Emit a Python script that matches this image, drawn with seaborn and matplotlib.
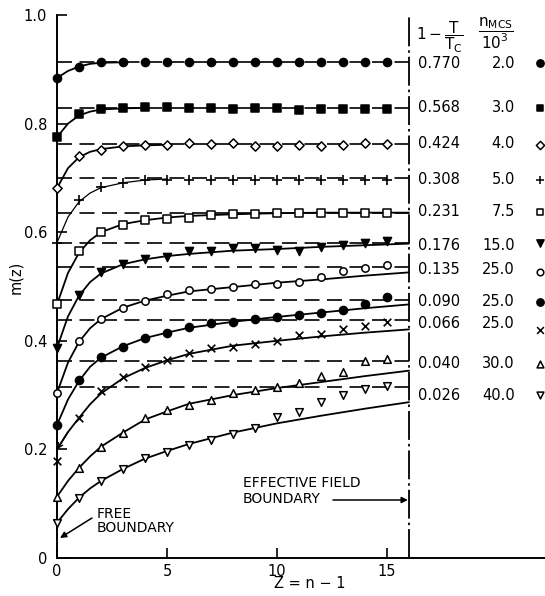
import numpy as np
import pandas as pd
import matplotlib
matplotlib.use("Agg")
import matplotlib.pyplot as plt
import seaborn as sns

# ------------------------------------------------------------------ data
Z = list(range(16))                 # layer index z = n - 1 of the data points
BOUNDARY_Z = 16                     # effective field boundary
ONE_MINUS_T = ["0.770", "0.568", "0.424", "0.308", "0.231", "0.176",
               "0.135", "0.090", "0.066", "0.040", "0.026"]
N_MCS = ["2.0", "3.0", "4.0", "5.0", "7.5", "15.0",
         "25.0", "25.0", "25.0", "30.0", "40.0"]
LEVELS = [0.913, 0.828, 0.762, 0.699, 0.636, 0.581, 0.535, 0.476, 0.439, 0.363, 0.315]

m_0770 = [0.884, 0.904, 0.913, 0.914, 0.913, 0.913, 0.913, 0.913, 0.913, 0.913, 0.913, 0.913, 0.913, 0.913, 0.913, 0.913]
m_0568 = [0.775, 0.817, 0.826, 0.828, 0.830, 0.830, 0.828, 0.828, 0.827, 0.828, 0.828, 0.825, 0.826, 0.827, 0.827, 0.826]
m_0424 = [0.681, 0.740, 0.751, 0.758, 0.760, 0.760, 0.765, 0.762, 0.764, 0.758, 0.758, 0.760, 0.758, 0.760, 0.764, 0.762]
m_0308 = [0.581, 0.659, 0.683, 0.690, 0.696, 0.697, 0.697, 0.696, 0.696, 0.696, 0.696, 0.696, 0.696, 0.696, 0.696, 0.696]
m_0231 = [0.467, 0.565, 0.601, 0.614, 0.622, 0.625, 0.627, 0.631, 0.633, 0.634, 0.635, 0.635, 0.635, 0.635, 0.635, 0.635]
m_0176 = [0.387, 0.485, 0.526, 0.542, 0.550, 0.555, 0.565, 0.566, 0.570, 0.570, 0.568, 0.566, 0.572, 0.577, 0.581, 0.583]
m_0135 = [0.304, 0.400, 0.441, 0.461, 0.474, 0.487, 0.494, 0.496, 0.500, 0.504, 0.505, 0.509, 0.518, 0.528, 0.534, 0.539]
m_0090 = [0.245, 0.327, 0.371, 0.389, 0.406, 0.415, 0.426, 0.432, 0.434, 0.441, 0.443, 0.448, 0.452, 0.457, 0.468, 0.480]
m_0066 = [0.179, 0.258, 0.308, 0.334, 0.352, 0.365, 0.378, 0.387, 0.389, 0.395, 0.400, 0.410, 0.413, 0.421, 0.428, 0.435]
m_0040 = [0.113, 0.166, 0.205, 0.231, 0.258, 0.273, 0.282, 0.291, 0.303, 0.310, 0.314, 0.323, 0.336, 0.343, 0.363, 0.367]
m_0026 = [0.065, 0.111, 0.142, 0.164, 0.185, 0.196, 0.208, 0.218, 0.229, 0.240, 0.260, 0.268, 0.288, 0.301, 0.312, 0.317]

# theoretical curves (solid lines)
FIT_Z_0770 = [0, 0.5, 1, 1.5, 2, 3]
FIT_0770 = [0.884, 0.897, 0.905, 0.910, 0.912, 0.913]
FIT_Z_0568 = [0, 0.5, 1, 1.5, 2, 3, 4]
FIT_0568 = [0.775, 0.800, 0.815, 0.822, 0.826, 0.828, 0.829]
FIT_Z_0424 = [0, 0.5, 1, 1.5, 2, 3, 4, 5]
FIT_0424 = [0.681, 0.718, 0.738, 0.748, 0.753, 0.758, 0.760, 0.761]
FIT_Z_0308 = [0, 0.5, 1, 1.5, 2, 3, 4, 5]
FIT_0308 = [0.581, 0.628, 0.656, 0.672, 0.682, 0.691, 0.696, 0.698]
FIT_Z_LONG = [0, 0.5, 1, 1.5, 2, 3, 4, 5, 6, 8, 10, 12, 14, 16]
FIT_0231 = [0.467, 0.525, 0.562, 0.585, 0.600, 0.615, 0.622, 0.627, 0.630, 0.633, 0.635, 0.636, 0.636, 0.636]
FIT_0176 = [0.387, 0.445, 0.483, 0.508, 0.524, 0.541, 0.550, 0.556, 0.560, 0.566, 0.569, 0.573, 0.576, 0.579]
FIT_0135 = [0.304, 0.360, 0.398, 0.423, 0.440, 0.461, 0.474, 0.483, 0.491, 0.499, 0.507, 0.513, 0.520, 0.526]
FIT_0090 = [0.245, 0.292, 0.326, 0.352, 0.369, 0.390, 0.405, 0.415, 0.424, 0.435, 0.444, 0.452, 0.460, 0.467]
FIT_0066 = [0.200, 0.232, 0.258, 0.283, 0.303, 0.331, 0.350, 0.364, 0.376, 0.391, 0.400, 0.408, 0.415, 0.421]
FIT_0040 = [0.113, 0.142, 0.166, 0.187, 0.205, 0.231, 0.255, 0.270, 0.284, 0.300, 0.313, 0.324, 0.335, 0.345]
FIT_0026 = [0.065, 0.090, 0.111, 0.128, 0.142, 0.164, 0.183, 0.197, 0.210, 0.231, 0.248, 0.262, 0.275, 0.287]

X_TICKS = [0, 5, 10, 15]
Y_TICKS = [0, 0.2, 0.4, 0.6, 0.8, 1.0]
Y_TICK_LABELS = ["0", "0.2", "0.4", "0.6", "0.8", "1.0"]

SERIES = [m_0770, m_0568, m_0424, m_0308, m_0231, m_0176, m_0135, m_0090, m_0066, m_0040, m_0026]
FITS = [(FIT_Z_0770, FIT_0770), (FIT_Z_0568, FIT_0568), (FIT_Z_0424, FIT_0424),
        (FIT_Z_0308, FIT_0308), (FIT_Z_LONG, FIT_0231), (FIT_Z_LONG, FIT_0176),
        (FIT_Z_LONG, FIT_0135), (FIT_Z_LONG, FIT_0090), (FIT_Z_LONG, FIT_0066),
        (FIT_Z_LONG, FIT_0040), (FIT_Z_LONG, FIT_0026)]

# ------------------------------------------------------------------ style
MARKERS = ['o', 's', 'D', '+', 's', 'v', 'o', 'o', 'x', '^', 'v']
FILLED = [True, True, False, None, False, True, False, True, None, False, False]
SIZES = [34, 28, 22, 45, 26, 34, 28, 34, 30, 30, 30]

sns.set_style("ticks")
plt.rcParams['font.family'] = ['DejaVu Sans']
plt.rcParams['mathtext.fontset'] = 'dejavusans'

W, H = 545, 596
fig = plt.figure(figsize=(W / 100, H / 100), dpi=100)
AX_L, AX_B, AX_W, AX_H = 57, 38, 488, 543
ax = fig.add_axes([AX_L / W, AX_B / H, AX_W / W, AX_H / H])
PX_PER_Z = 22.0
ax.set_xlim(0, AX_W / PX_PER_Z)
ax.set_ylim(0, 1.0)


def px_x(px):
    return (px - AX_L) / PX_PER_Z


def px_y(py):
    return (H - AX_B - py) / AX_H


K = 'black'
LW = 1.3

# dashed asymptote levels
for lev in LEVELS:
    sns.lineplot(x=[0, BOUNDARY_Z], y=[lev, lev], ax=ax, color=K, lw=1.2,
                 linestyle=(0, (9, 4.5)), zorder=2)

# effective field boundary (dash-dot vertical line)
ax.vlines(BOUNDARY_Z, 0, 1.0, color=K, lw=1.3, linestyles=[(0, (16, 2.2, 1.4, 2.2))], zorder=2)

# theoretical curves
for i, (fz, fv) in enumerate(FITS):
    lw = 0.9 if i == 3 else LW
    sns.lineplot(x=fz, y=fv, ax=ax, color=K, lw=lw, estimator=None, sort=False, zorder=3)

# arrowhead at start of the 0.066 curve
ax.annotate("", xy=(FIT_Z_LONG[0], FIT_0066[0]), xytext=(FIT_Z_LONG[1], FIT_0066[1]),
            arrowprops=dict(arrowstyle='->', color=K, lw=1.0, shrinkA=0, shrinkB=0,
                            mutation_scale=9), zorder=3)

# data points
for i, vals in enumerate(SERIES):
    mk = MARKERS[i]
    if FILLED[i] is None:
        sns.scatterplot(x=Z, y=vals, ax=ax, marker=mk, s=SIZES[i], color=K,
                        linewidth=1.2, zorder=5, clip_on=False)
    else:
        fc = K if FILLED[i] else 'white'
        sns.scatterplot(x=Z, y=vals, ax=ax, marker=mk, s=SIZES[i], facecolor=fc,
                        edgecolor=K, linewidth=1.1, zorder=5, clip_on=False)

# axes styling
sns.despine(ax=ax)
for sp in ['left', 'bottom']:
    ax.spines[sp].set_linewidth(1.4)
    ax.spines[sp].set_color(K)
ax.set_xticks(X_TICKS)
ax.set_xticklabels([str(t) for t in X_TICKS])
ax.set_yticks(Y_TICKS)
ax.set_yticklabels(Y_TICK_LABELS)
ax.tick_params(axis='both', direction='in', length=7, width=1.2, colors=K,
               labelsize=10.5)
ax.tick_params(axis='y', pad=7)
ax.tick_params(axis='x', pad=4)
ax.set_xlabel("")
ax.set_ylabel("")

fig.text(16 / W, 1 - 277 / H, "m(z)", rotation=90, ha='center', va='center',
         fontsize=10.5, color=K)
fig.text(310 / W, 1 - 584 / H, "Z = n − 1", ha='center', va='center',
         fontsize=10.5, color=K)

# legend block (right of the boundary)
ROW_PY = [63, 108, 143, 180, 212, 245, 270, 302, 324, 363, 395]
MK_PY = [63, 108, 145, 180, 212, 243, 272, 302, 330, 364, 395]
for i in range(len(ONE_MINUS_T)):
    ax.text(px_x(418), px_y(ROW_PY[i]), ONE_MINUS_T[i], ha='left', va='center',
            fontsize=10.5, color=K, clip_on=False)
    ax.text(px_x(515), px_y(ROW_PY[i]), N_MCS[i], ha='right', va='center',
            fontsize=10.5, color=K, clip_on=False)
    mk = MARKERS[i]
    if FILLED[i] is None:
        ax.scatter([px_x(540)], [px_y(MK_PY[i])], marker=mk, s=SIZES[i] * 0.8,
                   color=K, linewidth=1.1, clip_on=False, zorder=5)
    else:
        fc = K if FILLED[i] else 'white'
        ax.scatter([px_x(540)], [px_y(MK_PY[i])], marker=mk, s=SIZES[i] * 0.8,
                   facecolor=fc, edgecolor=K, linewidth=1.1, clip_on=False, zorder=5)

ax.text(px_x(416), px_y(37), r"$1-\dfrac{\mathrm{T}}{\mathrm{T_C}}$", ha='left', va='center',
        fontsize=11, color=K, clip_on=False)
ax.text(px_x(496), px_y(33), r"$\dfrac{\mathrm{n_{MCS}}}{\mathrm{10^3}}$", ha='center',
        va='center', fontsize=11, color=K, clip_on=False)

# annotations
ax.text(px_x(97), px_y(521), "FREE\nBOUNDARY", ha='left', va='center', fontsize=10,
        color=K, linespacing=1.05)
ax.annotate("", xy=(px_x(60), px_y(538)), xytext=(px_x(92), px_y(518)),
            arrowprops=dict(arrowstyle='-|>', color=K, lw=1.1, shrinkA=0, shrinkB=0,
                            mutation_scale=9))
ax.text(px_x(243), px_y(491), "EFFECTIVE FIELD\nBOUNDARY", ha='left', va='center',
        fontsize=10, color=K, linespacing=1.15)
ax.annotate("", xy=(BOUNDARY_Z - 0.05, px_y(500)), xytext=(px_x(333), px_y(500)),
            arrowprops=dict(arrowstyle='-|>', color=K, lw=1.1, shrinkA=0, shrinkB=0,
                            mutation_scale=9))

fig.savefig("out.png", dpi=100, facecolor='white')
